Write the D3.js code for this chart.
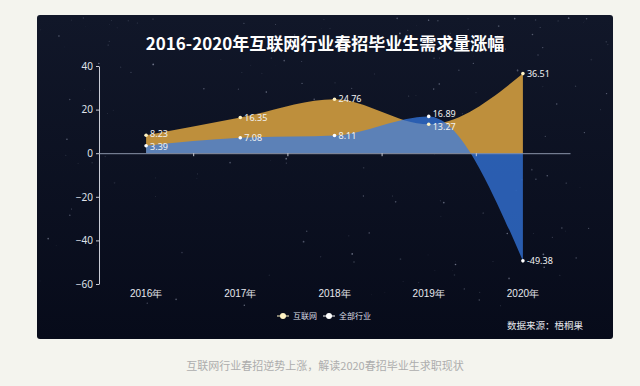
<!DOCTYPE html>
<html>
<head>
<meta charset="utf-8">
<script src="https://cdn.jsdelivr.net/npm/d3@7.9.0/dist/d3.min.js"></script>
<style>
  html, body { margin: 0; padding: 0; background: #f4f4ee; }
  svg { display: block; font-family: "Noto Sans CJK SC", "Noto Sans", sans-serif; }
</style>
</head>
<body>
<svg id="chart" width="640" height="386"></svg>
<script>
const years = ['2016年', '2017年', '2018年', '2019年', '2020年'];
const internet = [8.23, 16.35, 24.76, 13.27, 36.51];
const allIndustry = [3.39, 7.08, 8.11, 16.89, -49.38];
const yTicks = [40, 20, 0, -20, -40, -60];
const seriesNames = ['互联网', '全部行业'];

const svg = d3.select('#chart');

// dark panel with a soft gradient
const defs = svg.append('defs');
const grad = defs.append('linearGradient').attr('id', 'bg').attr('x1', 0).attr('y1', 0).attr('x2', 0).attr('y2', 1);
grad.append('stop').attr('offset', '0%').attr('stop-color', '#111729');
grad.append('stop').attr('offset', '100%').attr('stop-color', '#070b1a');

svg.append('rect')
  .attr('x', 37).attr('y', 15).attr('width', 576).attr('height', 324)
  .attr('rx', 3).attr('fill', 'url(#bg)');

// faint stars (decoration only)
let seed = 7;
const rnd = () => { seed = (seed * 16807) % 2147483647; return seed / 2147483647; };
const stars = svg.append('g');
for (let i = 0; i < 200; i++) {
  const sx = 40 + rnd() * 570;
  const sy = 18 + Math.pow(rnd(), 1.6) * 300;
  stars.append('circle')
    .attr('cx', sx).attr('cy', sy)
    .attr('r', 0.3 + rnd() * 0.6)
    .attr('fill', '#c8d0e8')
    .attr('opacity', 0.1 + rnd() * 0.4);
}

const x = d3.scaleBand().domain(years).range([99, 570]);
const y = d3.scaleLinear().domain([-60, 40]).range([284, 66]);
const cx = d => x(d) + x.bandwidth() / 2;

// title
svg.append('text')
  .attr('x', 325).attr('y', 50)
  .attr('text-anchor', 'middle')
  .attr('fill', '#ffffff')
  .attr('font-size', 17).attr('font-weight', 'bold')
  .text('2016-2020年互联网行业春招毕业生需求量涨幅');

// areas
const area = d3.area()
  .x((d, i) => cx(years[i]))
  .y0(y(0))
  .y1(d => y(d))
  .curve(d3.curveMonotoneX);

svg.append('path').datum(internet)
  .attr('d', area)
  .attr('fill', '#be8f3c');

svg.append('path').datum(allIndustry)
  .attr('d', area)
  .attr('fill', '#367be8')
  .attr('fill-opacity', 0.72);

// y axis
const yAxis = svg.append('g')
  .attr('transform', 'translate(99,0)')
  .call(d3.axisLeft(y).tickValues(yTicks).tickSize(3).tickSizeOuter(0));
yAxis.select('.domain').attr('stroke', '#c9ccd6');
yAxis.selectAll('.tick line').attr('stroke', '#c9ccd6');
yAxis.selectAll('.tick text')
  .attr('fill', '#dfe2ea').attr('font-size', 10)
  .attr('font-family', '"Noto Sans", sans-serif');

// zero line with ticks between categories
const boundaries = x.domain().slice(1).map(d => x(d));
const zeroAxis = svg.append('g')
  .attr('transform', `translate(0,${y(0)})`)
  .call(d3.axisBottom(d3.scaleLinear().domain([99, 570]).range([99, 570]))
    .tickValues(boundaries).tickSize(3).tickSizeOuter(0).tickFormat(''));
zeroAxis.select('.domain').attr('stroke', '#8c95aa');
zeroAxis.selectAll('.tick line').attr('stroke', '#c9ccd6');

// category labels at the bottom
const xAxis = svg.append('g')
  .attr('transform', 'translate(0,287)')
  .call(d3.axisBottom(x).tickSize(0));
xAxis.select('.domain').remove();
xAxis.selectAll('.tick text')
  .attr('fill', '#e6e8ee').attr('font-size', 10);

// points and labels; nudge labels apart when the two series sit close
function drawPoints(values, other, dotColor) {
  const g = svg.append('g');
  values.forEach((v, i) => {
    const gap = y(v) - y(other[i]);
    const nudge = Math.abs(gap) < 12.5 ? Math.sign(gap) * (12.5 - Math.abs(gap)) / 2 : 0;
    g.append('circle')
      .attr('cx', cx(years[i])).attr('cy', y(v))
      .attr('r', 1.8).attr('fill', dotColor);
    g.append('text')
      .attr('x', cx(years[i]) + 4).attr('y', y(v) + nudge)
      .attr('dy', '0.35em')
      .attr('fill', '#f2f2f2')
      .attr('font-size', 9)
      .attr('font-family', '"Noto Sans", sans-serif')
      .text(v.toFixed(2));
  });
}
drawPoints(internet, allIndustry, '#fff3c4');
drawPoints(allIndustry, internet, '#ffffff');

// legend
const legendColors = ['#fff3c4', '#ffffff'];
const legendX = [277, 323];
seriesNames.forEach((name, i) => {
  const g = svg.append('g').attr('transform', `translate(${legendX[i]},316)`);
  g.append('line').attr('x1', 0).attr('x2', 12).attr('y1', 0).attr('y2', 0)
    .attr('stroke', legendColors[i]).attr('stroke-width', 1);
  g.append('circle').attr('cx', 6).attr('cy', 0).attr('r', 3)
    .attr('fill', legendColors[i]);
  g.append('text').attr('x', 16).attr('y', 0).attr('dy', '0.35em')
    .attr('fill', '#dcdfe6').attr('font-size', 8).text(name);
});

// source note
svg.append('text')
  .attr('x', 583).attr('y', 329)
  .attr('text-anchor', 'end')
  .attr('fill', '#e6e8ee').attr('font-size', 9.5)
  .text('数据来源：梧桐果');

// caption
svg.append('text')
  .attr('x', 325).attr('y', 370)
  .attr('text-anchor', 'middle')
  .attr('fill', '#adadad').attr('font-size', 11)
  .text('互联网行业春招逆势上涨，解读2020春招毕业生求职现状');
</script>
</body>
</html>
